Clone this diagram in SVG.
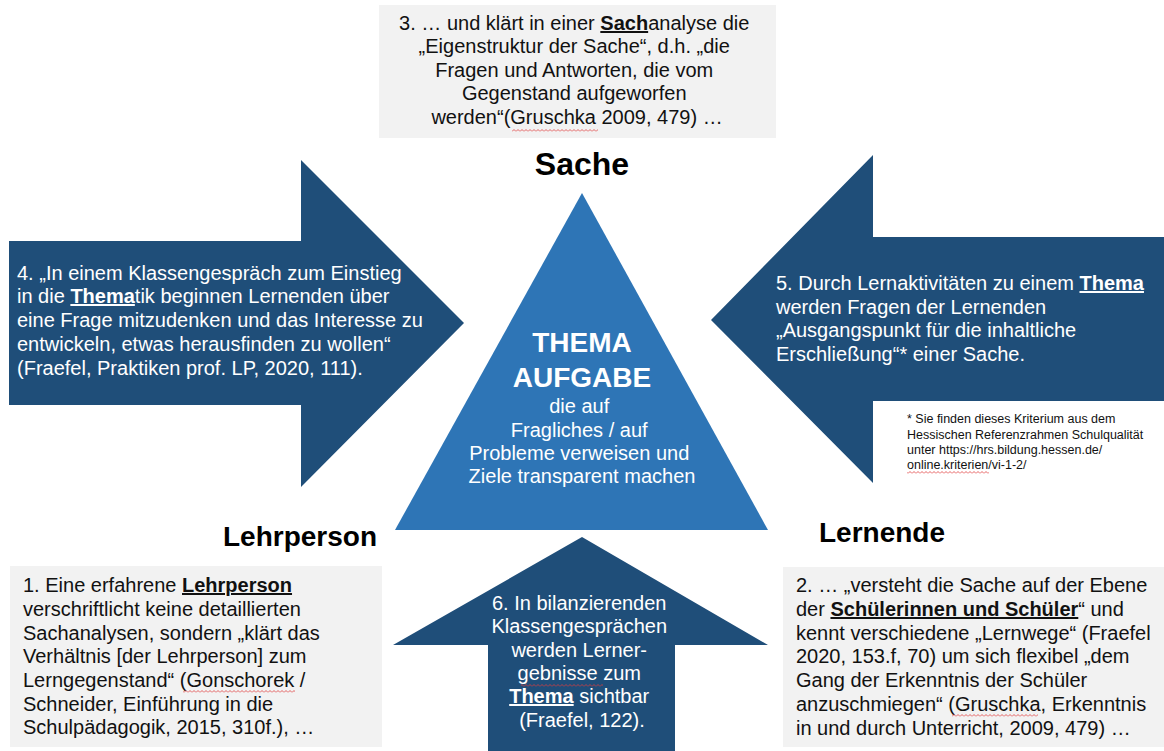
<svg xmlns="http://www.w3.org/2000/svg" width="1164" height="751" viewBox="0 0 1164 751">
<style>
.t{font-family:"Liberation Sans",Arial,sans-serif;font-size:20px;fill:#111}
.w{font-family:"Liberation Sans",Arial,sans-serif;font-size:20px;fill:#fff}
.big{font-family:"Liberation Sans",Arial,sans-serif;font-size:28px;font-weight:bold;fill:#fff}
.u{font-weight:bold;text-decoration:underline}
.lbl{font-family:"Liberation Sans",Arial,sans-serif;font-weight:bold;fill:#000}
.fn{font-family:"Liberation Sans",Arial,sans-serif;font-size:12.5px;fill:#111}
.dark{fill:#1f4e79}
.box{fill:#f2f2f2}
.sq{fill:url(#wave)}
</style>
<defs>
  <pattern id="wave" patternUnits="userSpaceOnUse" width="4" height="3">
    <polyline points="0,2.5 2,0.5 4,2.5" fill="none" stroke="#e03a3a" stroke-width="0.8"/>
  </pattern>
</defs>
<rect width="1164" height="751" fill="#fff"/>

<g id="connectors">
  <polygon class="dark" points="9,241 301,241 301,160 464,323 301,487 301,405 9,405"/>
  <polygon class="dark" points="1164,237 873,237 873,155 711,320 873,483 873,401 1164,401"/>
  <polygon class="dark" points="582,537 768,645 675,645 675,751 488,751 488,645 393,645"/>
</g>

<g id="triangle">
  <polygon points="582,193 768,530 395,530" fill="#2e75b6"/>
  <text class="big" x="582" y="352" text-anchor="middle">THEMA</text>
  <text class="big" x="582" y="387" text-anchor="middle">AUFGABE</text>
  <text class="w" text-anchor="middle">
    <tspan x="582" y="413">die auf</tspan>
    <tspan x="582" y="437">Fragliches / auf</tspan>
    <tspan x="582" y="460">Probleme verweisen und</tspan>
    <tspan x="582" y="483">Ziele transparent machen</tspan>
  </text>
</g>

<g id="sache">
  <rect class="box" x="379" y="5" width="397" height="133"/>
  <text class="t" text-anchor="middle">
    <tspan x="577" y="30">3. … und klärt in einer <tspan class="u">Sach</tspan>analyse die</tspan>
    <tspan x="577" y="53">„Eigenstruktur der Sache“, d.h. „die</tspan>
    <tspan x="577" y="77">Fragen und Antworten, die vom</tspan>
    <tspan x="577" y="100">Gegenstand aufgeworfen</tspan>
    <tspan x="577" y="124">werden“(Gruschka 2009, 479) …</tspan>
  </text>
  <rect class="sq" x="512" y="129" width="86" height="3"/>
  <text class="lbl" x="582" y="175" text-anchor="middle" font-size="32">Sache</text>
</g>

<g id="arrow4">
  <text class="w">
    <tspan x="17" y="280">4. „In einem Klassengespräch zum Einstieg</tspan>
    <tspan x="17" y="303">in die <tspan class="u">Thema</tspan>tik beginnen Lernenden über</tspan>
    <tspan x="17" y="327">eine Frage mitzudenken und das Interesse zu</tspan>
    <tspan x="17" y="351">entwickeln, etwas herausfinden zu wollen“</tspan>
    <tspan x="17" y="375">(Fraefel, Praktiken prof. LP, 2020, 111).</tspan>
  </text>
</g>

<g id="arrow5">
  <text class="w">
    <tspan x="776" y="290">5. Durch Lernaktivitäten zu einem <tspan class="u">Thema</tspan></tspan>
    <tspan x="776" y="314">werden Fragen der Lernenden</tspan>
    <tspan x="776" y="337">„Ausgangspunkt für die inhaltliche</tspan>
    <tspan x="776" y="361">Erschließung“* einer Sache.</tspan>
  </text>
</g>

<g id="footnote">
  <text class="fn">
    <tspan x="907" y="423">* Sie finden dieses Kriterium aus dem</tspan>
    <tspan x="907" y="439">Hessischen Referenzrahmen Schulqualität</tspan>
    <tspan x="907" y="454">unter https://hrs.bildung.hessen.de/</tspan>
    <tspan x="907" y="469">online.kriterien/vi-1-2/</tspan>
  </text>
  <rect class="sq" x="907" y="471" width="82" height="3"/>
</g>

<g id="arrow6">
  <text class="w" text-anchor="middle">
    <tspan x="582" y="610">6. In bilanzierenden</tspan>
    <tspan x="582" y="633">Klassengesprächen</tspan>
    <tspan x="582" y="657">werden Lerner-</tspan>
    <tspan x="582" y="680">gebnisse zum</tspan>
    <tspan x="582" y="703"><tspan class="u">Thema</tspan> sichtbar</tspan>
    <tspan x="582" y="727">(Fraefel, 122).</tspan>
  </text>
  <rect class="sq" x="521" y="684" width="82" height="3"/>
</g>

<g id="lehrperson">
  <text class="lbl" x="377" y="546" text-anchor="end" font-size="28">Lehrperson</text>
  <rect class="box" x="10" y="566" width="372" height="181"/>
  <text class="t">
    <tspan x="23" y="592">1. Eine erfahrene <tspan class="u">Lehrperson</tspan></tspan>
    <tspan x="23" y="616">verschriftlicht keine detaillierten</tspan>
    <tspan x="23" y="640">Sachanalysen, sondern „klärt das</tspan>
    <tspan x="23" y="663">Verhältnis [der Lehrperson] zum</tspan>
    <tspan x="23" y="687">Lerngegenstand“ (Gonschorek /</tspan>
    <tspan x="23" y="711">Schneider, Einführung in die</tspan>
    <tspan x="23" y="734">Schulpädagogik, 2015, 310f.), …</tspan>
  </text>
  <rect class="sq" x="183" y="690" width="112" height="3"/>
</g>

<g id="lernende">
  <text class="lbl" x="819" y="542" font-size="28">Lernende</text>
  <rect class="box" x="783" y="567" width="381" height="180"/>
  <text class="t">
    <tspan x="796" y="592">2. … „versteht die Sache auf der Ebene</tspan>
    <tspan x="796" y="616">der <tspan class="u">Schülerinnen und Schüler</tspan>“ und</tspan>
    <tspan x="796" y="640">kennt verschiedene „Lernwege“ (Fraefel</tspan>
    <tspan x="796" y="663">2020, 153.f, 70) um sich flexibel „dem</tspan>
    <tspan x="796" y="687">Gang der Erkenntnis der Schüler</tspan>
    <tspan x="796" y="711">anzuschmiegen“ (Gruschka, Erkenntnis</tspan>
    <tspan x="796" y="735">in und durch Unterricht, 2009, 479) …</tspan>
  </text>
  <rect class="sq" x="952" y="714" width="86" height="3"/>
</g>
</svg>
